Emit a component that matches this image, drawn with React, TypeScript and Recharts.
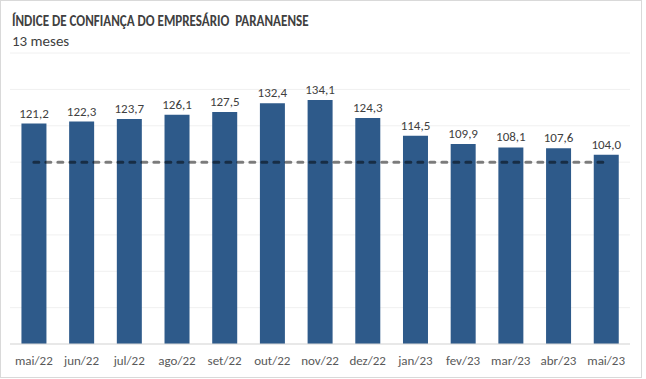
import React from 'react';
import {
  ComposedChart,
  Bar,
  Line,
  XAxis,
  YAxis,
  CartesianGrid,
  LabelList
} from 'recharts';

const months = [
  'mai/22', 'jun/22', 'jul/22', 'ago/22', 'set/22', 'out/22', 'nov/22',
  'dez/22', 'jan/23', 'fev/23', 'mar/23', 'abr/23', 'mai/23'
];
const icep = [121.2, 122.3, 123.7, 126.1, 127.5, 132.4, 134.1, 124.3, 114.5, 109.9, 108.1, 107.6, 104.0];
const neutral = [100, 100, 100, 100, 100, 100, 100, 100, 100, 100, 100, 100, 100];
const yTicks = [0, 20, 40, 60, 80, 100, 120, 140, 160];

const data = months.map((m, i) => ({ month: m, icep: icep[i], neutral: neutral[i] }));

const font = 'Carlito, "Liberation Sans Narrow", "Liberation Sans", Arial, sans-serif';

export default function App() {
  return (
    <div
      style={{
        position: 'absolute',
        left: 0,
        top: 0,
        width: 640,
        height: 376,
        border: '1px solid #d9d9d9',
        background: '#fff',
        fontFamily: font
      }}
    >
      <div
        style={{
          position: 'absolute',
          left: 11,
          top: 11,
          fontSize: 15,
          fontWeight: 'bold',
          color: '#404040',
          whiteSpace: 'pre',
          transform: 'scaleX(0.87)',
          transformOrigin: 'left center'
        }}
      >
        {'ÍNDICE DE CONFIANÇA DO EMPRESÁRIO  PARANAENSE'}
      </div>
      <div style={{ position: 'absolute', left: 11, top: 31, fontSize: 15, color: '#404040' }}>
        13 meses
      </div>
      <ComposedChart
        width={640}
        height={376}
        data={data}
        margin={{ top: 52, right: 11, left: 9, bottom: 3 }}
        barCategoryGap="24%"
      >
        <CartesianGrid vertical={false} stroke="#f0f0f0" />
        <XAxis
          dataKey="month"
          axisLine={{ stroke: '#d9d9d9' }}
          tickLine={false}
          height={30}
          tick={{ fill: '#595959', fontSize: 13, fontFamily: font }}
          dy={4}
        />
        <YAxis hide domain={[0, 160]} ticks={yTicks} />
        <Bar dataKey="icep" fill="#2e5a8a" isAnimationActive={false}>
          <LabelList
            dataKey="icep"
            position="top"
            offset={6}
            fill="#404040"
            fontSize={13}
            fontFamily={font}
            formatter={(v: number) => v.toFixed(1).replace('.', ',')}
          />
        </Bar>
        <Line
          dataKey="neutral"
          stroke="#000"
          strokeOpacity={0.5}
          strokeWidth={3}
          strokeDasharray="5 7"
          strokeLinecap="round"
          dot={false}
          activeDot={false}
          isAnimationActive={false}
        />
      </ComposedChart>
    </div>
  );
}
